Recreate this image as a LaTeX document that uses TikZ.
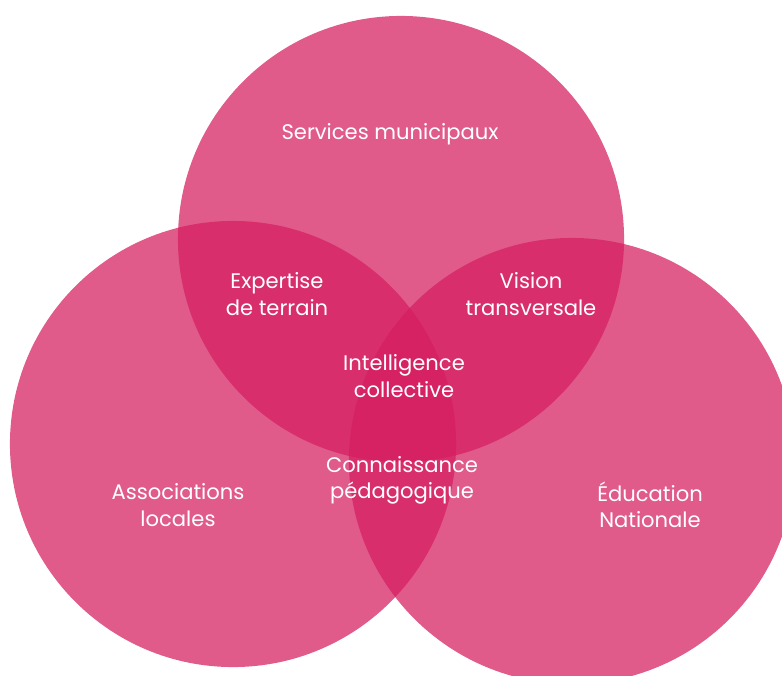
\documentclass[tikz,border=0pt]{standalone}
\usepackage{fontspec}
\setmainfont{Poppins}
\usetikzlibrary{positioning}
\definecolor{vennpink}{RGB}{213,29,95}
\tikzset{set/.style={fill=vennpink,fill opacity=.73},
  lbl/.style={text=white,align=center,font=\fontsize{15}{18.6}\selectfont}}

\begin{document}
\begin{tikzpicture}[x=0.025cm,y=-0.025cm]
\useasboundingbox (0,0) rectangle (782,676);
\clip (0,0) rectangle (782,676);
\coordinate (T) at (401,239);
\coordinate (L) at (233,444);
\coordinate (R) at (572,461);
\fill[set] (T) circle[radius=5.575cm];
\fill[set] (L) circle[radius=5.575cm];
\fill[set] (R) circle[radius=5.575cm];
\node[lbl] (serv) at (390,134) {Services municipaux};
\node[lbl] (asso) at (178,505) {Associations\\locales};
\node[lbl] (educ) at (650,505) {Éducation\\Nationale};
\node[lbl] (expe) at (277,294) {Expertise\\de terrain};
\node[lbl] (visi) at (531,294) {Vision\\transversale};
\node[lbl] (inte) at (404,376) {Intelligence\\collective};
\node[lbl] (conn) at (402,480) {Connaissance\\pédagogique};
\end{tikzpicture}
\end{document}
